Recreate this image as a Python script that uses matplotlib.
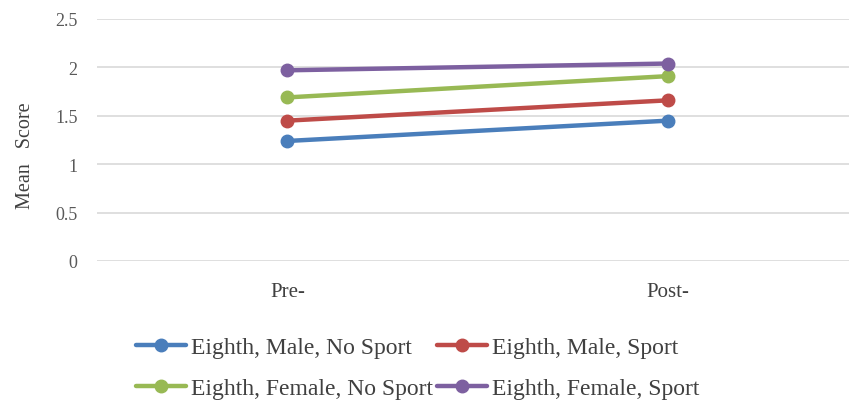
import numpy as np
import matplotlib.pyplot as plt

plt.rcParams['font.family'] = ['Liberation Serif', 'DejaVu Serif']

# data
periods = ['Pre-', 'Post-']
labels = ['Eighth, Male, No Sport', 'Eighth, Male, Sport',
          'Eighth, Female, No Sport', 'Eighth, Female, Sport']
male_nosport = [1.24, 1.45]
male_sport = [1.45, 1.66]
female_nosport = [1.69, 1.91]
female_sport = [1.97, 2.04]
colors = ['#4a7ebb', '#be4b48', '#98b954', '#7d60a0']

fig = plt.figure(figsize=(8.49, 4.02), dpi=100)
ax = fig.add_axes([97 / 849, 1 - 262 / 402, 1 - 97 / 849, (262 - 20) / 402])

x = np.arange(len(periods))
series = [male_nosport, male_sport, female_nosport, female_sport]
lines = []
for vals, lab, c in zip(series, labels, colors):
    ln, = ax.plot(x, vals, color=c, lw=3.2, marker='o', ms=9, label=lab,
                  solid_capstyle='round')
    lines.append(ln)

ax.set_ylim(0, 2.5)
ax.set_yticks([0, 0.5, 1, 1.5, 2, 2.5])
ax.set_yticklabels(['0', '0.5', '1', '1.5', '2', '2.5'])
ax.set_xlim(-0.5, 1.475)
ax.set_xticks(x)
ax.set_xticklabels(periods)
ax.grid(axis='y', color='#d9d9d9', lw=1.2)
ax.set_axisbelow(True)
for s in ax.spines.values():
    s.set_visible(False)
ax.tick_params(axis='y', length=0, pad=14, labelsize=13, labelcolor='#595959')
ax.tick_params(axis='x', length=0, pad=15, labelsize=15, labelcolor='#404040')
ax.set_ylabel('Mean   Score', fontsize=14.5, color='#404040')
ax.yaxis.set_label_coords(-0.082, 0.44)

# legend filled row by row like the original
order = [0, 2, 1, 3]
fig.legend([lines[i] for i in order], [labels[i] for i in order],
           loc='upper left', bbox_to_anchor=(115 / 849, 1 - 316 / 402), ncol=2,
           frameon=False, fontsize=17, handlelength=2.1, handletextpad=0.2,
           columnspacing=0.2, labelspacing=0.85, labelcolor='#404040')

fig.savefig('out.png', dpi=100)
